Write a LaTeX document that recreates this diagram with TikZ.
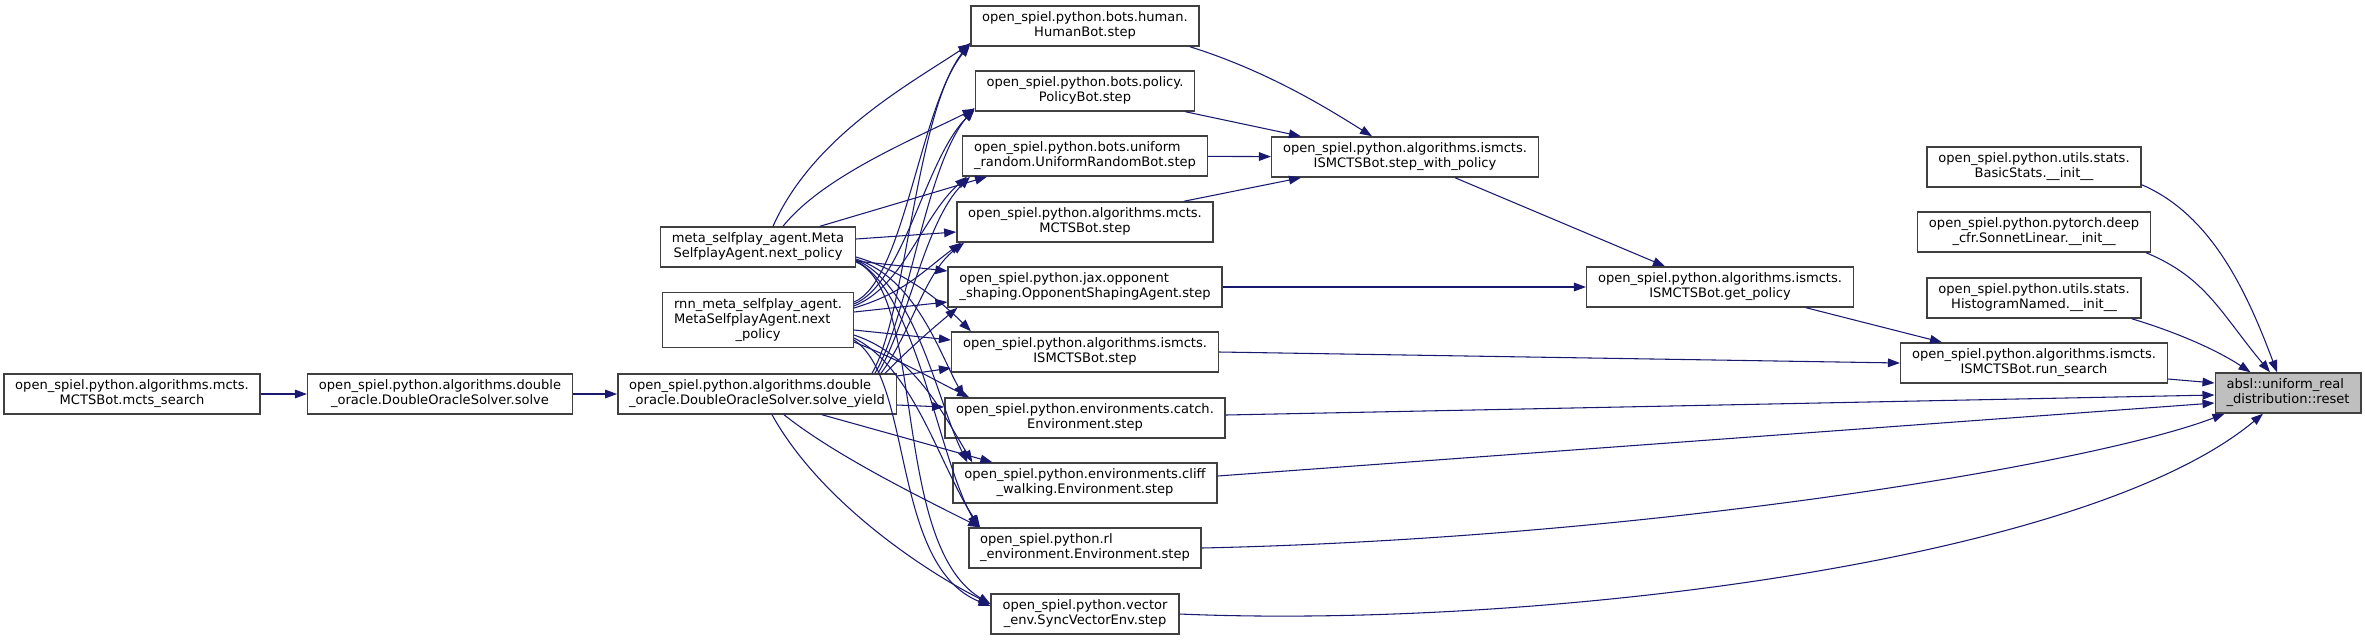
\documentclass[tikz,border=0pt]{standalone}
\usepackage{fontspec}
\setmainfont{DejaVu Sans}
\usepackage{xcolor}
\usepackage{tikz}
\usetikzlibrary{calc,arrows.meta}
\definecolor{edgec}{HTML}{191970}
\definecolor{framec}{HTML}{404040}
\definecolor{rootbg}{HTML}{BFBFBF}
\newcommand{\twol}[2]{\begin{tabular}{@{}l@{}}#1\\\multicolumn{1}{@{}c@{}}{#2}\end{tabular}}
\newcommand{\threel}[3]{\begin{tabular}{@{}l@{}}#1\\#2\\\multicolumn{1}{@{}c@{}}{#3}\end{tabular}}
\tikzset{
  box/.style={draw=framec,line width=1.1pt,fill=white,inner xsep=8.5pt,inner ysep=2pt,minimum height=30pt,font=\fontsize{9.8}{11.25}\selectfont},
  ar/.style={-{Triangle[length=9pt,width=6.5pt]},edgec,line width=0.8pt}
}

\begin{document}
\begin{tikzpicture}[x=0.75pt,y=-0.75pt]
\useasboundingbox (0,0) rectangle (2365,640);
\node[box] (mcts) at (132,394) {\twol{open\_spiel.python.algorithms.mcts.}{MCTSBot.mcts\_search}};
\node[box] (solve) at (440,394) {\twol{open\_spiel.python.algorithms.double}{\_oracle.DoubleOracleSolver.solve}};
\node[box] (yield) at (757,394) {\twol{open\_spiel.python.algorithms.double}{\_oracle.DoubleOracleSolver.solve\_yield}};
\node[box] (meta) at (758,247) {\twol{meta\_selfplay\_agent.Meta}{SelfplayAgent.next\_policy}};
\node[box,minimum height=41pt] (rnn) at (758,320) {\threel{rnn\_meta\_selfplay\_agent.}{MetaSelfplayAgent.next}{\_policy}};
\node[box] (human) at (1085,26) {\twol{open\_spiel.python.bots.human.}{HumanBot.step}};
\node[box] (policy) at (1085,91) {\twol{open\_spiel.python.bots.policy.}{PolicyBot.step}};
\node[box] (uniform) at (1085,156) {\twol{open\_spiel.python.bots.uniform}{\_random.UniformRandomBot.step}};
\node[box] (mctsstep) at (1085,222) {\twol{open\_spiel.python.algorithms.mcts.}{MCTSBot.step}};
\node[box] (opp) at (1085,287) {\twol{open\_spiel.python.jax.opponent}{\_shaping.OpponentShapingAgent.step}};
\node[box] (ismstep) at (1085,352) {\twol{open\_spiel.python.algorithms.ismcts.}{ISMCTSBot.step}};
\node[box] (catch) at (1085,418) {\twol{open\_spiel.python.environments.catch.}{Environment.step}};
\node[box] (cliff) at (1085,483) {\twol{open\_spiel.python.environments.cliff}{\_walking.Environment.step}};
\node[box] (rlenv) at (1085,548) {\twol{open\_spiel.python.rl}{\_environment.Environment.step}};
\node[box] (vecenv) at (1085,614) {\twol{open\_spiel.python.vector}{\_env.SyncVectorEnv.step}};
\node[box] (swp) at (1405,157) {\twol{open\_spiel.python.algorithms.ismcts.}{ISMCTSBot.step\_with\_policy}};
\node[box] (getpol) at (1720,287) {\twol{open\_spiel.python.algorithms.ismcts.}{ISMCTSBot.get\_policy}};
\node[box] (runsearch) at (2034,363) {\twol{open\_spiel.python.algorithms.ismcts.}{ISMCTSBot.run\_search}};
\node[box] (basic) at (2034,167) {\twol{open\_spiel.python.utils.stats.}{BasicStats.\_\_init\_\_}};
\node[box] (sonnet) at (2034,232) {\twol{open\_spiel.python.pytorch.deep}{\_cfr.SonnetLinear.\_\_init\_\_}};
\node[box] (histo) at (2034,298) {\twol{open\_spiel.python.utils.stats.}{HistogramNamed.\_\_init\_\_}};
\node[box,fill=rootbg] (reset) at (2288,393) {\twol{absl::uniform\_real}{\_distribution::reset}};

\draw[ar] (mcts) -- (solve);
\draw[ar] (solve) -- (yield);

\draw[ar] ($(meta.north)+(15,0)$) .. controls +(40,-90) and +(-60,40) .. ($(human.south west)+(0,-3)$);
\draw[ar] ($(meta.north)+(25,0)$) .. controls +(40,-50) and +(-60,30) .. ($(policy.south west)+(0,-3)$);
\draw[ar] ($(meta.north)+(62,0)$) -- ($(uniform.south west)+(25,0)$);
\draw[ar] ($(meta.east)+(0,-8)$) -- ($(mctsstep.west)+(0,10)$);
\draw[ar] ($(meta.east)+(0,14)$) -- ($(opp.west)+(0,-16)$);
\draw[ar] ($(meta.east)+(0,10)$) .. controls +(50,15) and +(-30,-30) .. ($(ismstep.north west)+(20,0)$);
\draw[ar] ($(meta.east)+(0,12)$) .. controls +(60,20) and +(-25,-45) .. ($(catch.north west)+(20,0)$);
\draw[ar] ($(meta.east)+(0,13)$) .. controls +(60,25) and +(-30,-60) .. ($(cliff.north west)+(15,0)$);
\draw[ar] ($(meta.east)+(0,14)$) .. controls +(60,30) and +(-40,-70) .. ($(rlenv.north west)+(10,0)$);
\draw[ar] ($(meta.east)+(0,15)$) .. controls +(70,30) and +(-100,-60) .. ($(vecenv.west)+(0,-10)$);

\draw[ar] ($(rnn.east)+(0,-18)$) .. controls +(50,-20) and +(-50,60) .. ($(human.south west)+(0,-2)$);
\draw[ar] ($(rnn.east)+(0,-16)$) .. controls +(50,-20) and +(-50,50) .. ($(policy.south west)+(0,-2)$);
\draw[ar] ($(rnn.east)+(0,-14)$) .. controls +(50,-20) and +(-45,40) .. ($(uniform.south west)+(5,0)$);
\draw[ar] ($(rnn.east)+(0,-12)$) .. controls +(50,-15) and +(-40,30) .. ($(mctsstep.south west)+(5,0)$);
\draw[ar] ($(rnn.east)+(0,-8)$) -- ($(opp.west)+(0,15)$);
\draw[ar] ($(rnn.east)+(0,10)$) -- ($(ismstep.west)+(0,-12)$);
\draw[ar] ($(rnn.east)+(0,22)$) .. controls +(50,20) and +(-40,-20) .. ($(catch.north west)+(25,0)$);
\draw[ar] ($(rnn.east)+(0,15)$) .. controls +(60,20) and +(-30,-50) .. ($(cliff.north west)+(20,0)$);
\draw[ar] ($(rnn.east)+(0,18)$) .. controls +(60,30) and +(-40,-60) .. ($(rlenv.north west)+(12,0)$);
\draw[ar] ($(rnn.east)+(0,20)$) .. controls +(60,40) and +(-100,-40) .. ($(vecenv.west)+(0,-8)$);

\draw[ar] ($(yield.north east)+(-25,0)$) .. controls +(35,-60) and +(-55,70) .. ($(human.south west)+(0,-4)$);
\draw[ar] ($(yield.north east)+(-22,0)$) .. controls +(35,-60) and +(-50,60) .. ($(policy.south west)+(0,-4)$);
\draw[ar] ($(yield.north east)+(-19,0)$) .. controls +(30,-50) and +(-45,45) .. ($(uniform.south west)+(8,0)$);
\draw[ar] ($(yield.north east)+(-16,0)$) .. controls +(30,-40) and +(-40,30) .. ($(mctsstep.south west)+(8,0)$);
\draw[ar] ($(yield.north east)+(-12,0)$) .. controls +(25,-25) and +(-30,25) .. ($(opp.south west)+(10,0)$);
\draw[ar] ($(yield.east)+(0,-18)$) -- ($(ismstep.west)+(0,16)$);
\draw[ar] ($(yield.east)+(0,11)$) -- ($(catch.west)+(0,-11)$);
\draw[ar] ($(yield.south)+(65,0)$) -- ($(cliff.north west)+(40,0)$);
\draw[ar] ($(yield.south)+(27,0)$) .. controls +(50,40) and +(-60,-30) .. ($(rlenv.north west)+(12,0)$);
\draw[ar] ($(yield.south)+(15,0)$) .. controls +(50,90) and +(-60,-30) .. ($(vecenv.west)+(0,-10)$);

\draw[ar] ($(human.south east)+(-10,0)$) .. controls +(80,25) and +(-40,-25) .. ($(swp.north)+(-33,0)$);
\draw[ar] ($(policy.south east)+(-10,0)$) -- ($(swp.north west)+(30,0)$);
\draw[ar] (uniform) -- (swp);
\draw[ar] ($(mctsstep.north east)+(-30,0)$) -- ($(swp.south west)+(30,0)$);
\draw[ar] ($(swp.south)+(50,0)$) -- ($(getpol.north)+(-55,0)$);
\draw[ar] (opp) -- (getpol);
\draw[ar] ($(getpol.south east)+(-48,0)$) -- ($(runsearch.north west)+(42,0)$);
\draw[ar] (ismstep.east) -- (runsearch.west);

\draw[ar] ($(runsearch.east)+(0,16)$) -- ($(reset.west)+(0,-10)$);
\draw[ar] ($(catch.east)+(0,-3)$) -- ($(reset.west)+(0,2)$);
\draw[ar] ($(cliff.east)+(0,-7)$) -- ($(reset.west)+(0,10)$);
\draw[ar] (rlenv.east) .. controls +(450,-10) and +(-130,50) .. ($(reset.south west)+(10,0)$);
\draw[ar] (vecenv.east) .. controls +(350,15) and +(-180,150) .. ($(reset.south)+(-25,0)$);
\draw[ar] ($(basic.south east)+(0,-3)$) .. controls +(70,30) and +(-30,-80) .. ($(reset.north)+(-11,0)$);
\draw[ar] ($(sonnet.south east)+(-5,0)$) .. controls +(60,25) and +(-50,-60) .. ($(reset.north)+(-18,0)$);
\draw[ar] ($(histo.south east)+(-10,0)$) .. controls +(50,15) and +(-30,-20) .. ($(reset.north west)+(36,0)$);
\end{tikzpicture}
\end{document}
